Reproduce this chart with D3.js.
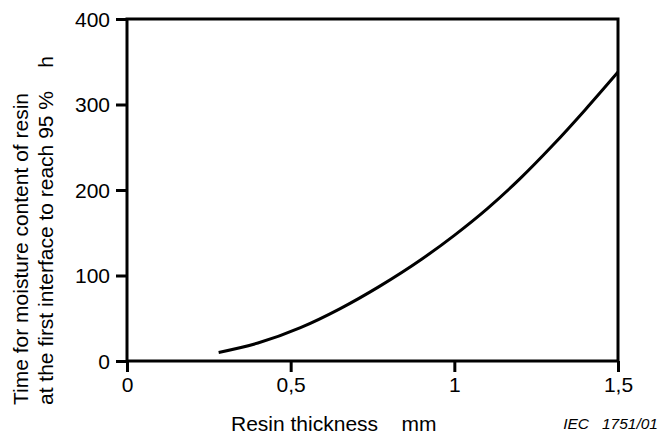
<!DOCTYPE html>
<html>
<head>
<meta charset="utf-8">
<script src="https://cdn.jsdelivr.net/npm/d3@7"></script>
<style>
  body { margin: 0; background: #fff; }
  svg text { font-family: "Liberation Sans", Arial, sans-serif; fill: #000; }
</style>
</head>
<body>
<div id="chart"></div>
<script>
// values
const thickness = [0.28, 0.4, 0.53, 0.65, 0.77, 0.9, 1.0, 1.1, 1.2, 1.3, 1.4, 1.5];
const hours = [10, 21, 39, 61, 87, 119, 147, 178, 213, 252, 294, 338];
const xTicks = [0, 0.5, 1, 1.5];
const yTicks = [0, 100, 200, 300, 400];

const width = 659, height = 443;
const margin = { top: 19, right: 41, bottom: 82, left: 127 };
const innerW = width - margin.left - margin.right;
const innerH = height - margin.top - margin.bottom;
const fontSize = 21;

const svg = d3.select("#chart")
  .append("svg")
  .attr("width", width)
  .attr("height", height);

const g = svg.append("g")
  .attr("transform", `translate(${margin.left},${margin.top})`);

const x = d3.scaleLinear().domain([0, 1.5]).range([0, innerW]);
const y = d3.scaleLinear().domain([0, 400]).range([innerH, 0]);

const fmt = d => String(d).replace(".", ",");

// x axis
const xAxis = g.append("g")
  .attr("transform", `translate(0,${innerH})`)
  .call(d3.axisBottom(x).tickValues(xTicks).tickFormat(fmt).tickSize(11).tickPadding(5));
xAxis.select(".domain").remove();
xAxis.selectAll("line").attr("stroke-width", 3);
xAxis.selectAll("text")
  .attr("font-size", fontSize)
  .style("font-family", "Liberation Sans, Arial, sans-serif");

// y axis
const yAxis = g.append("g")
  .call(d3.axisLeft(y).tickValues(yTicks).tickSize(11).tickPadding(6));
yAxis.select(".domain").remove();
yAxis.selectAll("line").attr("stroke-width", 3);
yAxis.selectAll("text")
  .attr("font-size", fontSize)
  .attr("dy", "0.35em")
  .style("font-family", "Liberation Sans, Arial, sans-serif");

// frame
g.append("rect")
  .attr("x", 0).attr("y", 0)
  .attr("width", innerW).attr("height", innerH)
  .attr("fill", "none")
  .attr("stroke", "#000")
  .attr("stroke-width", 3);

// curve
const pts = thickness.map((t, i) => [t, hours[i]]);
g.append("path")
  .datum(pts)
  .attr("fill", "none")
  .attr("stroke", "#000")
  .attr("stroke-width", 3)
  .attr("d", d3.line().x(d => x(d[0])).y(d => y(d[1])).curve(d3.curveMonotoneX));

// axis titles
svg.append("text")
  .attr("x", 231).attr("y", 431)
  .attr("font-size", fontSize)
  .attr("xml:space", "preserve")
  .text("Resin thickness    mm");

const yTitle = svg.append("text")
  .attr("transform", "translate(0,405) rotate(-90)")
  .attr("font-size", fontSize)
  .attr("xml:space", "preserve");
yTitle.append("tspan").attr("x", 0).attr("y", 28).text("Time for moisture content of resin");
yTitle.append("tspan").attr("x", 0).attr("y", 53).text("at the first interface to reach 95 %    h");

svg.append("text")
  .attr("x", 658).attr("y", 429)
  .attr("text-anchor", "end")
  .attr("font-size", 15.5)
  .attr("font-style", "italic")
  .attr("xml:space", "preserve")
  .text("IEC   1751/01");
</script>
</body>
</html>
